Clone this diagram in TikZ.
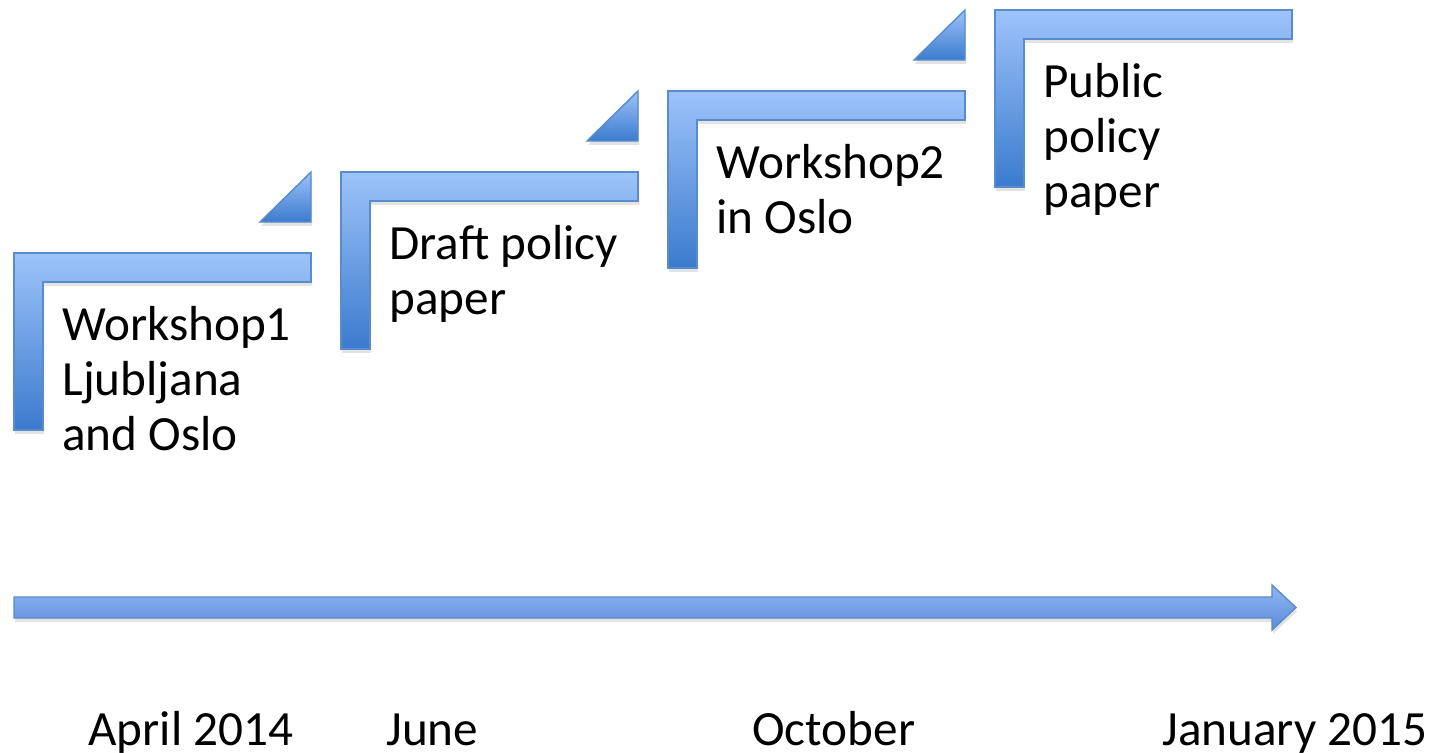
\documentclass[tikz,border=0pt]{standalone}
\usepackage{fontspec}
\setmainfont{Carlito}
\usetikzlibrary{shadows}
\definecolor{paper}{HTML}{FFFFFF}
\definecolor{ink}{HTML}{000000}
\definecolor{steplight}{HTML}{9DC3FA}
\definecolor{stepdark}{HTML}{3B7BCD}
\definecolor{stepline}{HTML}{5A8BCB}
\definecolor{arrowlight}{HTML}{90B7F3}
\definecolor{arrowdark}{HTML}{5B8DDA}
\tikzset{
  stepshape/.style={draw=stepline,line width=.8pt,
                    top color=steplight,bottom color=stepdark,
                    drop shadow={shadow xshift=.6pt,shadow yshift=-2.2pt,opacity=.22}},
  steparrow/.style={draw=stepline,line width=.8pt,
                    top color=arrowlight,bottom color=arrowdark,
                    drop shadow={shadow xshift=.6pt,shadow yshift=-2.2pt,opacity=.22}},
  every node/.style={text=ink}
}
\newcommand{\stepfont}{\fontsize{28}{31.3}\selectfont}

\begin{document}
\begin{tikzpicture}[x=.02cm,y=-.02cm]
  \fill[paper] (0,0) rectangle (1434,752);
  \useasboundingbox (0,0) rectangle (1434,752);

  % ======================== STEPS ========================
  \foreach \x/\y in {14/253,341/172,668/91,995/10}{
    \path[stepshape] (\x,\y) -- ++(297,0) -- ++(0,29) -- ++(-268,0)
      -- ++(0,148) -- ++(-29,0) -- cycle;
  }

  % Rising cues between steps
  \foreach \x/\y in {14/253,341/172,668/91}{
    \path[stepshape] (\x+246,\y-31) -- (\x+297,\y-31) -- (\x+297,\y-81) -- cycle;
  }

  % Step labels (anchored at the baseline of the last line)
  \node[anchor=base west,align=left,inner sep=0pt,font=\stepfont] (wsone) at (62,450)
    {Workshop1\\Ljubljana\\and Oslo};
  \node[anchor=base west,align=left,inner sep=0pt,font=\stepfont] (draft) at (389,314)
    {Draft policy\\paper};
  \node[anchor=base west,align=left,inner sep=0pt,font=\stepfont] (wstwo) at (716,233)
    {Workshop2\\in Oslo};
  \node[anchor=base west,align=left,inner sep=0pt,font=\stepfont] (public) at (1043,207)
    {Public\\policy\\paper};

  % ======================== TIMELINE ========================
  \path[steparrow] (14,597) -- (1272,597) -- (1272,585) -- (1296,607.5)
    -- (1272,630) -- (1272,618) -- (14,618) -- cycle;

  \node[anchor=base west,inner sep=0pt,font=\stepfont] (april) at (88,745) {April 2014};
  \node[anchor=base west,inner sep=0pt,font=\stepfont] (june) at (386,745) {June};
  \node[anchor=base west,inner sep=0pt,font=\stepfont] (october) at (752,745) {October};
  \node[anchor=base west,inner sep=0pt,font=\stepfont] (january) at (1162,745) {January 2015};
\end{tikzpicture}
\end{document}
